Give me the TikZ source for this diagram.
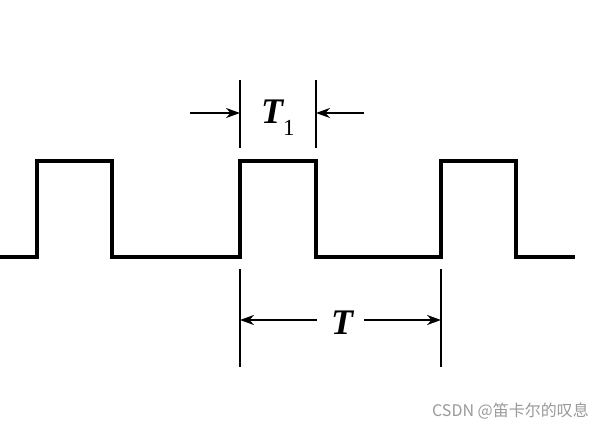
\documentclass[tikz,border=0pt]{standalone}
\usepackage{fontspec}
\setmainfont{Liberation Serif}
\newfontfamily\cjk{Noto Sans CJK SC}
\usetikzlibrary{arrows.meta}
\begin{document}
\begin{tikzpicture}[x=1pt,y=-1pt,
  wave/.style={line width=3.2pt,line join=miter},
  tick/.style={line width=2.4pt},
  dimarrow/.style={line width=2pt,-{Stealth[length=14pt,width=10pt]}},
  lbl/.style={font=\fontsize{36}{40}\selectfont\bfseries\itshape,inner sep=0pt}]
\useasboundingbox (0,0) rectangle (600,428);
\draw[wave] (0,257) -- (37,257) -- (37,161) -- (112,161) -- (112,257)
  -- (240,257) -- (240,161) -- (316,161) -- (316,257)
  -- (441,257) -- (441,161) -- (516,161) -- (516,257) -- (575,257);
% T1 marker
\coordinate (a1) at (240,80); \coordinate (a2) at (240,148);
\coordinate (b1) at (316,80); \coordinate (b2) at (316,148);
\draw[tick] (a1) -- (a2);
\draw[tick] (b1) -- (b2);
\coordinate (la) at (190,113); \coordinate (lt) at (240,113);
\coordinate (ra) at (364,113); \coordinate (rt) at (316,113);
\draw[dimarrow] (la) -- (lt);
\draw[dimarrow] (ra) -- (rt);
\node[lbl,anchor=base west] (t1) at (261,124) {T};
\node[font=\fontsize{23}{25}\selectfont,inner sep=0pt,anchor=base west] (one) at (283,135) {1};
% T marker
\coordinate (c1) at (240,269); \coordinate (c2) at (240,367);
\coordinate (d1) at (441,269); \coordinate (d2) at (441,367);
\draw[tick] (c1) -- (c2);
\draw[tick] (d1) -- (d2);
\node[lbl,anchor=base] (t) at (342,334) {T};
\coordinate (tl) at (317,320); \coordinate (tr) at (364,320);
\coordinate (ct) at (240,320); \coordinate (dt) at (441,320);
\draw[dimarrow] (tl) -- (ct);
\draw[dimarrow] (tr) -- (dt);
% watermark
\node[font=\cjk\fontsize{16}{18}\selectfont,text=black!40,anchor=east,inner sep=0pt] (wm) at (589,411) {CSDN @笛卡尔的叹息};
\end{tikzpicture}
\end{document}
